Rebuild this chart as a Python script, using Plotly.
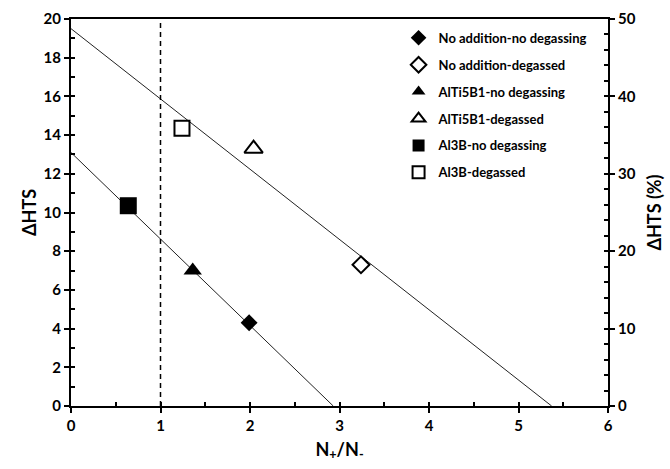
import plotly.graph_objects as go

# ---- data ----
series_names = [
    "No addition-no degassing",
    "No addition-degassed",
    "AlTi5B1-no degassing",
    "AlTi5B1-degassed",
    "Al3B-no degassing",
    "Al3B-degassed",
]
ratio_vals = [1.99, 3.24, 1.36, 2.04, 0.64, 1.24]      # N+/N-
dhts_vals = [4.3, 7.3, 7.0, 13.3, 10.35, 14.35]        # ΔHTS

fit_low_x = [0.0, 2.93]
fit_low_y = [13.1, 0.0]
fit_high_x = [0.0, 5.37]
fit_high_y = [19.5, 0.0]

ref_x = [1.0, 1.0]
ref_y = [0.0, 20.0]

x_ticks = [0, 1, 2, 3, 4, 5, 6]
y_ticks = [0, 2, 4, 6, 8, 10, 12, 14, 16, 18, 20]
y2_ticks = [0, 10, 20, 30, 40, 50]

# ---- styling ----
marker_styles = {
    "No addition-no degassing": dict(symbol="diamond", size=13, color="black"),
    "No addition-degassed": dict(symbol="diamond-open", size=13, color="black", line=dict(width=2, color="black")),
    "AlTi5B1-no degassing": dict(symbol="triangle-up", size=16, color="black"),
    "AlTi5B1-degassed": dict(symbol="triangle-up-open", size=16, color="black", line=dict(width=2, color="black")),
    "Al3B-no degassing": dict(symbol="square", size=17, color="black"),
    "Al3B-degassed": dict(symbol="square-open", size=15, color="black", line=dict(width=2, color="black")),
}

FONT = "Lato"
fig = go.Figure()

fig.add_trace(go.Scatter(x=fit_low_x, y=fit_low_y, mode="lines",
                         line=dict(color="#222", width=1), showlegend=False, hoverinfo="skip"))
fig.add_trace(go.Scatter(x=fit_high_x, y=fit_high_y, mode="lines",
                         line=dict(color="#222", width=1), showlegend=False, hoverinfo="skip"))
fig.add_trace(go.Scatter(x=ref_x, y=ref_y, mode="lines",
                         line=dict(color="black", width=1.5, dash="5px,4px"), showlegend=False, hoverinfo="skip"))

for i, name in enumerate(series_names):
    fig.add_trace(go.Scatter(x=[ratio_vals[i]], y=[dhts_vals[i]], mode="markers",
                             name="<b>" + name + "</b>",
                             legendgroup=name, marker=marker_styles[name]))

# invisible traces to anchor helper axes
fig.add_trace(go.Scatter(x=[None], y=[None], xaxis="x2", yaxis="y3", showlegend=False))
fig.add_trace(go.Scatter(x=[None], y=[None], xaxis="x", yaxis="y2", showlegend=False))
fig.add_trace(go.Scatter(x=[None], y=[None], xaxis="x", yaxis="y4", showlegend=False))

tickfont = dict(family=FONT, size=15, color="black")
titlefont = dict(family=FONT, size=18, color="black")


def bold(vals):
    return ["<b>%g</b>" % v for v in vals]


fig.update_layout(
    width=670, height=469,
    margin=dict(l=71, r=62, t=19, b=63),
    paper_bgcolor="white", plot_bgcolor="white",
    font=dict(family=FONT, color="black"),
    xaxis=dict(range=[0, 6], tickvals=x_ticks, ticktext=bold(x_ticks), ticks="outside",
               ticklen=5, tickwidth=2, automargin=False,
               tickcolor="black", showline=True, linewidth=2, linecolor="black", mirror=True,
               showgrid=False, zeroline=False, tickfont=tickfont,
               title=dict(text="<b>N<sub>+</sub>/N<sub>-</sub></b>", font=titlefont, standoff=10)),
    xaxis2=dict(range=[0, 6], overlaying="x", anchor="y", side="bottom", dtick=0.5, tick0=0,
                ticks="inside", ticklen=4, tickwidth=2, tickcolor="black", automargin=False,
                showticklabels=False, showline=False, showgrid=False, zeroline=False),
    yaxis=dict(range=[0, 20], tickvals=y_ticks, ticktext=bold(y_ticks), ticks="outside",
               ticklen=5, tickwidth=2, automargin=False,
               tickcolor="black", showline=True, linewidth=2, linecolor="black",
               showgrid=False, zeroline=False, tickfont=tickfont,
               title=dict(text="<b>ΔHTS</b>", font=titlefont, standoff=2)),
    yaxis3=dict(range=[0, 20], overlaying="y", anchor="x", side="left", dtick=1, tick0=0,
                ticks="inside", ticklen=4, tickwidth=2, tickcolor="black", automargin=False,
                showticklabels=False, showline=False, showgrid=False, zeroline=False),
    yaxis2=dict(range=[0, 50], overlaying="y", anchor="x", side="right", tickvals=y2_ticks,
                ticktext=bold(y2_ticks), automargin=False,
                ticks="outside", ticklen=5, tickwidth=2, tickcolor="black",
                showline=True, linewidth=2, linecolor="black",
                showgrid=False, zeroline=False, tickfont=tickfont,
                title=dict(text="<b>ΔHTS (%)</b>", font=titlefont, standoff=14)),
    yaxis4=dict(range=[0, 50], overlaying="y", anchor="x", side="right", dtick=2, tick0=0,
                ticks="inside", ticklen=4, tickwidth=2, tickcolor="black", automargin=False,
                showticklabels=False, showline=False, showgrid=False, zeroline=False),
    legend=dict(x=0.61, y=0.99, xanchor="left", yanchor="top", bgcolor="rgba(0,0,0,0)",
                font=dict(family=FONT, size=13, color="black"),
                traceorder="grouped", tracegroupgap=7, itemsizing="constant"),
    showlegend=True,
)

fig.write_html("out.html", config={"displayModeBar": False},
               post_script="document.body.style.margin='0';document.body.style.padding='0';")
